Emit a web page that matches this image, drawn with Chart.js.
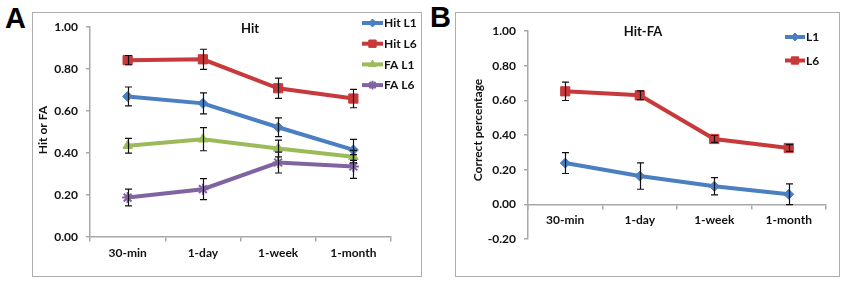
<!DOCTYPE html>
<html><head><meta charset="utf-8">
<script src="https://cdn.jsdelivr.net/npm/chart.js@4/dist/chart.umd.min.js"></script>
<style>
html,body{margin:0;padding:0;background:#fff;width:850px;height:287px;overflow:hidden;}
.box{position:absolute;border:1.5px solid #adadad;box-sizing:border-box;}
.lett{position:absolute;font-family:"Liberation Sans",Arial,sans-serif;font-weight:bold;font-size:29px;line-height:29px;color:#000;}
canvas{position:absolute;}
</style></head><body>
<div class="lett" style="left:5px;top:4px;">A</div>
<div class="lett" style="left:430px;top:3px;">B</div>
<div class="box" style="left:32px;top:12px;width:390px;height:265px;"></div>
<div class="box" style="left:455px;top:12px;width:385px;height:265px;"></div>
<canvas id="cA" width="390" height="265" style="left:32px;top:12px;width:390px;height:265px;"></canvas>
<canvas id="cB" width="385" height="265" style="left:455px;top:12px;width:385px;height:265px;"></canvas>
<script>
const categories = ["30-min", "1-day", "1-week", "1-month"];
// Panel A: Hit / FA
const hitL1 = [0.67, 0.637, 0.523, 0.415];
const hitL1Err = [0.045, 0.05, 0.045, 0.05];
const hitL6 = [0.843, 0.847, 0.709, 0.66];
const hitL6Err = [0.022, 0.048, 0.048, 0.044];
const faL1 = [0.435, 0.466, 0.422, 0.383];
const faL1Err = [0.035, 0.055, 0.04, 0.03];
const faL6 = [0.188, 0.228, 0.355, 0.336];
const faL6Err = [0.04, 0.05, 0.05, 0.057];
const yTicksA = [0, 0.2, 0.4, 0.6, 0.8, 1.0];
// Panel B: Hit-FA
const diffL1 = [0.238, 0.163, 0.104, 0.058];
const diffL1Err = [0.06, 0.076, 0.05, 0.06];
const diffL6 = [0.652, 0.629, 0.377, 0.325];
const diffL6Err = [0.053, 0.025, 0.02, 0.02];
const yTicksB = [-0.2, 0, 0.2, 0.4, 0.6, 0.8, 1.0];

const FONT = "Lato, 'Open Sans', sans-serif";
const TXT = '#111';
const AXIS = '#a8a8a8';
const C = {blue:'#4a7fc1', red:'#c8393b', green:'#9bbb59', purple:'#8064a2'};

function ds(label, data, err, color, style, rad) {
  return {label, data, errors: err, borderColor: color, backgroundColor: color,
    borderWidth: 4, pointStyle: style, pointRadius: rad, pointBorderWidth: style === 'star' ? 2 : 1,
    pointBorderColor: color, pointBackgroundColor: color, tension: 0, fill: false};
}

const errorBars = {
  id: 'errorBars',
  afterDatasetsDraw(chart) {
    const ctx = chart.ctx, ys = chart.scales.y;
    ctx.save();
    ctx.strokeStyle = '#111'; ctx.lineWidth = 1.2;
    chart.data.datasets.forEach((d, i) => {
      const meta = chart.getDatasetMeta(i);
      meta.data.forEach((pt, j) => {
        const v = d.data[j], e = d.errors[j];
        const x = Math.round(pt.x) + 0.5;
        const y1 = ys.getPixelForValue(v + e), y2 = ys.getPixelForValue(v - e);
        ctx.beginPath();
        ctx.moveTo(x, y1); ctx.lineTo(x, y2);
        ctx.moveTo(x - 3.5, y1); ctx.lineTo(x + 3.5, y1);
        ctx.moveTo(x - 3.5, y2); ctx.lineTo(x + 3.5, y2);
        ctx.stroke();
      });
    });
    ctx.restore();
  }
};

function makeChart(id, datasets, yMin, yMax, yTicks, geom, o) {
  const ctx = document.getElementById(id).getContext('2d');
  return new Chart(ctx, {
    type: 'line',
    data: {labels: categories, datasets},
    options: {
      responsive: false, animation: false, devicePixelRatio: 1,
      layout: {padding: {left: 0, top: geom.top, right: geom.right, bottom: geom.bottom}},
      plugins: {legend: {display: false}, tooltip: {enabled: false}},
      scales: {
        x: {
          type: 'category', offset: true,
          position: {y: 0},
          grid: {display: true, drawOnChartArea: false, drawTicks: true, tickLength: 4, offset: true, color: AXIS, lineWidth: 1.5},
          border: {display: true, color: AXIS, width: 1.5},
          ticks: {color: TXT, font: {family: FONT, size: 12, weight: 'bold'}, padding: 5, maxRotation: 0, autoSkip: false},
          afterFit(s) { s.height = 0; }
        },
        y: {
          min: yMin, max: yMax,
          afterBuildTicks(s) { s.ticks = yTicks.map(v => ({value: v})); },
          grid: {display: true, drawOnChartArea: false, drawTicks: true, tickLength: 4, color: AXIS, lineWidth: 1.5},
          border: {display: true, color: AXIS, width: 1.5},
          ticks: {color: TXT, font: {family: FONT, size: 12, weight: 'bold'}, padding: 8,
            callback: v => Number(v).toFixed(2)},
          afterFit(s) { s.width = geom.left; }
        }
      }
    },
    plugins: [errorBars, {
      id: 'decor',
      afterDraw(chart) {
        const c = chart.ctx;
        c.save();
        c.fillStyle = TXT;
        c.font = 'bold 13px ' + FONT;
        c.textAlign = 'center'; c.textBaseline = 'middle';
        c.fillText(o.title, o.titleX, o.titleY);
        c.save();
        c.translate(o.ytX, o.ytY); c.rotate(-Math.PI / 2);
        c.font = 'bold 12px ' + FONT;
        c.fillText(o.yTitle, 0, 0);
        c.restore();
        c.font = 'bold 12px ' + FONT;
        c.textAlign = 'left';
        chart.data.datasets.forEach((d, i) => {
          const y = o.legY + i * o.legStep;
          c.strokeStyle = d.borderColor; c.lineWidth = 4;
          c.beginPath(); c.moveTo(o.legX, y); c.lineTo(o.legX + o.legLen, y); c.stroke();
          c.fillStyle = d.backgroundColor; c.strokeStyle = d.borderColor; c.lineWidth = d.pointBorderWidth;
          Chart.helpers.drawPoint(c, {pointStyle: d.pointStyle, radius: d.pointRadius * 0.8, borderWidth: d.pointBorderWidth}, o.legX + o.legLen / 2, y);
          c.fillStyle = TXT;
          c.fillText(d.label, o.legX + o.legLen + 1, y + 0.5);
        });
        c.restore();
      }
    }]
  });
}

makeChart('cA', [
  ds('Hit L1', hitL1, hitL1Err, C.blue, 'rectRot', 5),
  ds('Hit L6', hitL6, hitL6Err, C.red, 'rect', 6.5),
  ds('FA L1', faL1, faL1Err, C.green, 'triangle', 5.5),
  ds('FA L6', faL6, faL6Err, C.purple, 'star', 5.5)
], 0, 1, yTicksA,
  {left: 58, top: 11, right: 31, bottom: 40},
  {title: 'Hit', titleX: 218, titleY: 17, yTitle: 'Hit or FA', ytX: 11, ytY: 118,
   legX: 330, legLen: 21, legY: 11, legStep: 20.7});

makeChart('cB', [
  ds('L1', diffL1, diffL1Err, C.blue, 'rectRot', 5),
  ds('L6', diffL6, diffL6Err, C.red, 'rect', 6.5)
], -0.2, 1, yTicksB,
  {left: 73, top: 19, right: 14, bottom: 38},
  {title: 'Hit-FA', titleX: 188, titleY: 20, yTitle: 'Correct percentage', ytX: 23, ytY: 118,
   legX: 330, legLen: 20, legY: 25, legStep: 23.5});
</script>
</body></html>
